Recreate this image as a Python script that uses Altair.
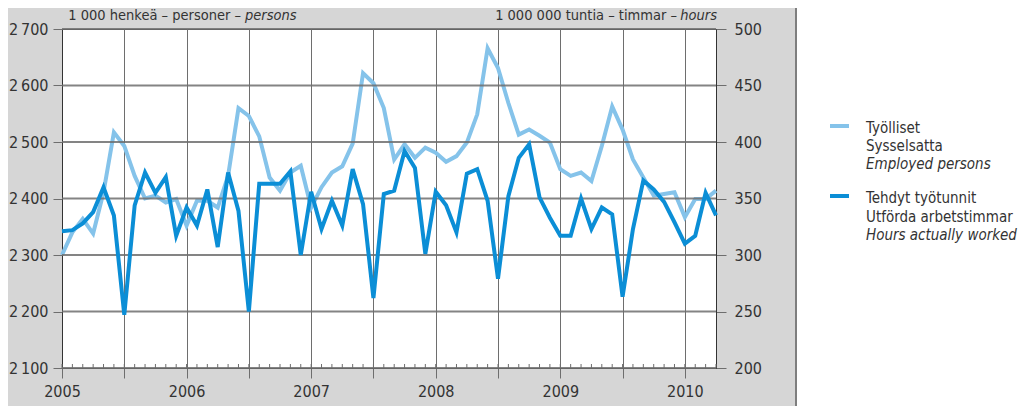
import altair as alt
import pandas as pd

# ---- data ----
months = pd.date_range("2005-01-01", periods=64, freq="MS")
employed = [2300, 2340, 2364, 2338, 2411, 2517, 2493, 2440, 2400, 2405, 2393, 2399,
            2352, 2396, 2396, 2384, 2440, 2560, 2546, 2510, 2437, 2414, 2446, 2458,
            2384, 2420, 2446, 2457, 2497, 2622, 2604, 2560, 2469, 2496, 2472, 2490,
            2481, 2465, 2475, 2499, 2549, 2666, 2631, 2569, 2513, 2522, 2511, 2499,
            2452, 2440, 2446, 2431, 2493, 2563, 2522, 2469, 2437, 2405, 2408, 2411,
            2367, 2399, 2399, 2414]
hours = [321, 322, 328, 338, 360, 335, 247, 344, 373, 355, 369, 317,
         342, 326, 358, 307, 373, 339, 250, 363, 363, 363, 374, 300,
         356, 323, 348, 326, 376, 345, 262, 354, 357, 392, 377, 301,
         356, 344, 320, 372, 376, 348, 279, 352, 386, 398, 351, 333,
         317, 317, 350, 323, 342, 336, 263, 323, 366, 358, 347, 329,
         310, 317, 355, 335]
left_ticks = [2100, 2200, 2300, 2400, 2500, 2600, 2700]
right_ticks = [200, 250, 300, 350, 400, 450, 500]
year_ticks = [2005, 2005.5, 2006, 2006.5, 2007, 2007.5, 2008, 2008.5, 2009, 2009.5, 2010]

left_title = "1 000 henkeä – personer –"
left_title_it = "persons"
right_title = "1 000 000 tuntia – timmar –"
right_title_it = "hours"
legend_light = ["Työlliset", "Sysselsatta", "Employed persons"]
legend_dark = ["Tehdyt työtunnit", "Utförda arbetstimmar", "Hours actually worked"]

t = [d.year + (d.month - 1) / 12 for d in months]
df = pd.DataFrame({"t": t, "employed": employed, "hours": hours})
gdf = pd.DataFrame({"g": left_ticks})
one = pd.DataFrame({"a": [0]})

W, H = 654, 339
FONT = "DejaVu Sans Condensed, Liberation Sans Narrow, sans-serif"
LIGHT = "#85c3ea"
DARK = "#0b8ed6"
TXT = "#333333"
GRID = "#6e6e6e"
FS = 15
T0, T1 = 2005, 2005 + 63 / 12

xscale = alt.Scale(domain=[T0, T1], nice=False, zero=False)
lscale = alt.Scale(domain=[2100, 2700], nice=False, zero=False)

xaxis = alt.Axis(values=year_ticks, grid=True, gridColor=GRID, gridWidth=1,
                 tickSize=10, tickColor=GRID, domainColor="#333",
                 labelExpr="datum.value % 1 == 0 ? format(datum.value, 'd') : ''",
                 labelPadding=5, labelFontSize=FS + 1, labelFont=FONT,
                 labelColor=TXT, title=None, labelFlush=False)

light = alt.Chart(df).mark_line(color=LIGHT, strokeWidth=4).encode(
    x=alt.X("t:Q", scale=xscale, axis=xaxis),
    y=alt.Y("employed:Q", scale=lscale,
            axis=alt.Axis(values=left_ticks, orient="left", grid=False,
                          tickSize=9, tickColor=GRID, domainColor="#333",
                          labelExpr="substring(toString(datum.value),0,1) + '\u2009' + substring(toString(datum.value),1)",
                          labelPadding=5, labelFontSize=FS + 1, labelFont=FONT,
                          labelColor=TXT, title=None)),
)

# horizontal grid lines on the left scale (spanning the x domain)
hgrid = alt.Chart(gdf).mark_rule(color=GRID, strokeWidth=2, opacity=0.85).encode(
    x=alt.X("t0:Q", scale=xscale, axis=xaxis), x2="t1:Q",
    y=alt.Y("g:Q", scale=lscale, axis=None),
).transform_calculate(t0=str(T0), t1=str(T1))

# white legend area to the right of the grey panel
white = alt.Chart(one).mark_rect(color="white").encode(
    x=alt.value(735), x2=alt.value(W + 320), y=alt.value(-40), y2=alt.value(H + 60))

dark = alt.Chart(df).mark_line(color=DARK, strokeWidth=4).encode(
    x=alt.X("t:Q", scale=xscale, axis=xaxis),
    y=alt.Y("hours:Q",
            scale=alt.Scale(domain=[200, 500], nice=False, zero=False),
            axis=alt.Axis(values=right_ticks, orient="right", grid=False,
                          tickSize=10, tickColor=GRID, domainColor="#333",
                          labelPadding=8, labelFontSize=FS + 1, labelFont=FONT,
                          labelColor=TXT, title=None)),
)

# monthly minor ticks pointing up into the plot
mticks = alt.Chart(df).mark_rule(color=GRID, strokeWidth=1).encode(
    x=alt.X("t:Q", scale=xscale, axis=xaxis),
    y=alt.value(H), y2=alt.value(H - 4),
)

border = alt.Chart(one).mark_rule(color="#444", strokeWidth=1.2).encode(
    x=alt.value(734), y=alt.value(-40), y2=alt.value(H + 60))


def txt(s, x, y, align="left", italic=False, size=FS):
    return alt.Chart(one).mark_text(
        text=s, align=align, baseline="middle", font=FONT, fontSize=size,
        fontStyle="italic" if italic else "normal", color=TXT,
    ).encode(x=alt.value(x), y=alt.value(y))


titles = [
    txt(left_title, 179, -13, align="right", size=14.5),
    txt(left_title_it, 183, -13, italic=True, size=14.5),
    txt(right_title, 615, -13, align="right", size=14.5),
    txt(right_title_it, 655, -13, align="right", italic=True, size=14.5),
]

leg = [
    alt.Chart(one).mark_rule(color=LIGHT, strokeWidth=4).encode(
        x=alt.value(768), x2=alt.value(787), y=alt.value(97)),
    alt.Chart(one).mark_rule(color=DARK, strokeWidth=4).encode(
        x=alt.value(768), x2=alt.value(787), y=alt.value(167)),
]
for i, s in enumerate(legend_light):
    leg.append(txt(s, 804, 99 + 18 * i, italic=(i == 2)))
for i, s in enumerate(legend_dark):
    leg.append(txt(s, 804, 169 + 18.5 * i, italic=(i == 2)))

chart = alt.layer(
    light, hgrid, white, mticks, border, dark, *titles, *leg
).resolve_scale(y="independent").properties(
    width=W, height=H,
    autosize=alt.AutoSizeParams(type="none"),
    padding={"left": 54, "top": 21, "right": 305, "bottom": 38},
    background="#d6d6d6",
).configure_view(fill="white", stroke="#333", strokeWidth=1)

chart.save("out.html", embed_options={"renderer": "svg", "actions": False})
